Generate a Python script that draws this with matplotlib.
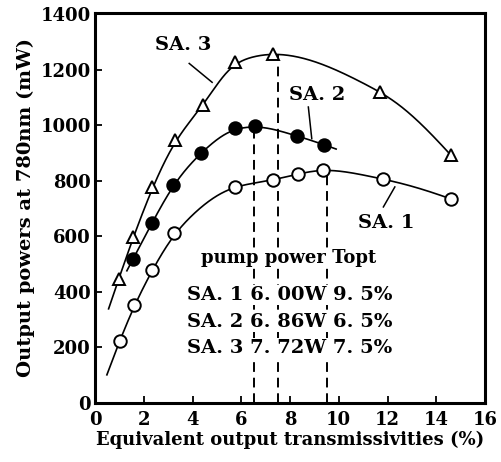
import numpy as np
import matplotlib
matplotlib.use("Agg")
import matplotlib.pyplot as plt

# ---- data ----
sa1_x = [1.0, 1.6, 2.35, 3.25, 5.74, 7.3, 8.34, 9.34, 11.83, 14.6]
sa1_y = [224, 353, 479, 611, 779, 803, 825, 840, 806, 735]
sa2_x = [1.55, 2.33, 3.2, 4.35, 5.74, 6.56, 8.27, 9.4]
sa2_y = [518, 647, 786, 901, 989, 997, 962, 930]
sa3_x = [0.96, 1.57, 2.35, 3.28, 4.44, 5.74, 7.31, 11.7, 14.6]
sa3_y = [446, 599, 777, 946, 1072, 1228, 1258, 1120, 893]

# range over which each curve is drawn
sa1_range = [0.48, 14.6]
sa2_range = [1.3, 9.9]
sa3_range = [0.55, 14.6]

# optimum output transmissivities (dashed lines) and their peak powers
topt = [9.5, 6.5, 7.5]
topt_peak = [840, 997, 1258]

table_rows = ["SA. 1 6. 00W 9. 5%", "SA. 2 6. 86W 6. 5%", "SA. 3 7. 72W 7. 5%"]

xticks = [0, 2, 4, 6, 8, 10, 12, 14, 16]
yticks = [0, 200, 400, 600, 800, 1000, 1200, 1400]


def pchip(x, y, xs):
    """Monotone cubic Hermite curve through the points, linear beyond ends."""
    x = np.asarray(x, float); y = np.asarray(y, float)
    h = np.diff(x); dlt = np.diff(y) / h
    n = len(x)
    m = np.zeros(n)
    for k in range(1, n - 1):
        if dlt[k - 1] * dlt[k] > 0:
            w1 = 2 * h[k] + h[k - 1]
            w2 = h[k] + 2 * h[k - 1]
            m[k] = (w1 + w2) / (w1 / dlt[k - 1] + w2 / dlt[k])
        else:
            m[k] = 0.0

    def end(h0, h1, d0, d1):
        d = ((2 * h0 + h1) * d0 - h0 * d1) / (h0 + h1)
        if np.sign(d) != np.sign(d0):
            d = 0.0
        elif np.sign(d0) != np.sign(d1) and abs(d) > abs(3 * d0):
            d = 3 * d0
        return d
    m[0] = end(h[0], h[1], dlt[0], dlt[1])
    m[-1] = end(h[-1], h[-2], dlt[-1], dlt[-2])

    out = np.empty_like(xs)
    for j, xv in enumerate(xs):
        if xv <= x[0]:
            out[j] = y[0] + m[0] * (xv - x[0]); continue
        if xv >= x[-1]:
            out[j] = y[-1] + m[-1] * (xv - x[-1]); continue
        k = min(np.searchsorted(x, xv, side='right') - 1, n - 2)
        t = (xv - x[k]) / h[k]
        h00 = 2 * t ** 3 - 3 * t ** 2 + 1
        h10 = t ** 3 - 2 * t ** 2 + t
        h01 = -2 * t ** 3 + 3 * t ** 2
        h11 = t ** 3 - t ** 2
        out[j] = h00 * y[k] + h10 * h[k] * m[k] + h01 * y[k + 1] + h11 * h[k] * m[k + 1]
    return out


def smooth_curve(x, y, rng, sigma=0.45, step=0.01):
    pad = 4 * sigma
    xx = np.arange(rng[0] - pad, rng[1] + pad + step / 2, step)
    yy = pchip(x, y, xx)
    k = np.arange(-int(pad / step), int(pad / step) + 1) * step
    g = np.exp(-0.5 * (k / sigma) ** 2); g /= g.sum()
    ys = np.convolve(yy, g, mode='same')
    sel = (xx >= rng[0]) & (xx <= rng[1])
    return xx[sel], ys[sel]


plt.rcParams['font.family'] = ['DejaVu Serif']
plt.rcParams['font.weight'] = 'bold'
plt.rcParams['axes.labelweight'] = 'bold'

fig = plt.figure(figsize=(5.01, 4.62), dpi=100)
ax = fig.add_axes([0.19, 0.128, 0.778, 0.844])

series = [
    (sa1_x, sa1_y, sa1_range, dict(marker='o', mfc='white')),
    (sa2_x, sa2_y, sa2_range, dict(marker='o', mfc='black')),
    (sa3_x, sa3_y, sa3_range, dict(marker='^', mfc='white')),
]
for xs_, ys_, rng, mk in series:
    cx, cy = smooth_curve(xs_, ys_, rng)
    ax.plot(cx, cy, color='black', lw=1.2, zorder=2)
    ax.plot(xs_, ys_, ls='none', mec='black', mew=1.4, ms=9, zorder=3, **mk)

for t, p in zip(topt, topt_peak):
    ax.plot([t, t], [0, p], color='black', ls=(0, (5, 3)), lw=1.4, zorder=1)

# labels with leader lines
ax.text(3.6, 1290, "SA. 3", fontsize=14, ha='center', va='center')
ax.plot([3.86, 4.8], [1223, 1155], color='black', lw=1.1)
ax.text(9.13, 1108, "SA. 2", fontsize=14, ha='center', va='center')
ax.plot([8.75, 8.89], [1066, 952], color='black', lw=1.1)
ax.text(11.96, 648, "SA. 1", fontsize=14, ha='center', va='center')
ax.plot([12.3, 11.83], [778, 706], color='black', lw=1.1)

bb = dict(facecolor='white', edgecolor='none', pad=0.5)
ax.text(7.92, 522, "pump power Topt", fontsize=13, ha='center', va='center', bbox=bb, zorder=4)
for row, yv in zip(table_rows, [389, 291, 198]):
    ax.text(3.77, yv, row, fontsize=14, ha='left', va='center', bbox=bb, zorder=4)

ax.set_xlim(0, 16)
ax.set_ylim(0, 1405)
ax.set_xticks(xticks)
ax.set_yticks(yticks)
ax.tick_params(direction='in', length=5, width=1.3, labelsize=13)
ax.tick_params(axis='x', pad=6)
ax.tick_params(axis='y', pad=3)
for s in ax.spines.values():
    s.set_linewidth(2.2)
ax.set_xlabel("Equivalent output transmissivities (%)", fontsize=13, labelpad=1)
ax.set_ylabel("Output powers at 780nm (mW)", fontsize=14, labelpad=4)

fig.savefig("out.png", dpi=100)
